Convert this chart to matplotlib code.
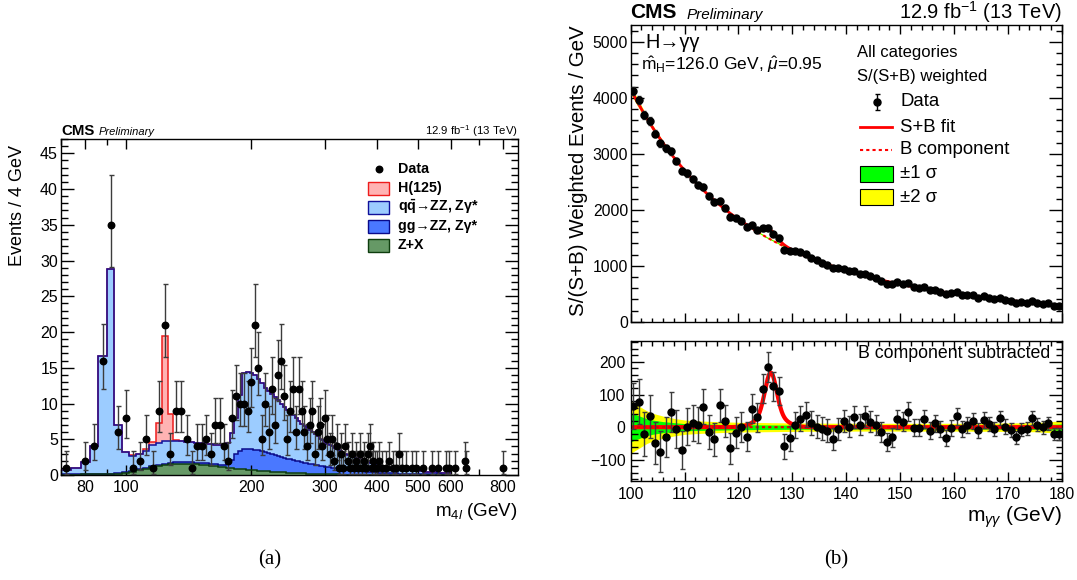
import numpy as np
import matplotlib
matplotlib.use('Agg')
import matplotlib.pyplot as plt
from matplotlib.patches import Rectangle
from matplotlib.ticker import FixedLocator, NullFormatter, FuncFormatter, MultipleLocator

plt.rcParams['font.family'] = ['Liberation Sans', 'DejaVu Sans']
plt.rcParams['mathtext.fontset'] = 'custom'
plt.rcParams['mathtext.rm'] = 'Liberation Sans'
plt.rcParams['mathtext.it'] = 'Liberation Sans:italic'
plt.rcParams['mathtext.bf'] = 'Liberation Sans:bold'

PX = 0.72  # points per pixel at 100 dpi

# ---------------------------------------------------------------- (a) m4l
# expected yields per 4 GeV bin, first bin 70-74 GeV
zx_yield = [
    0.05, 0.05, 0.08, 0.1, 0.12, 0.15, 0.2, 0.3, 0.45, 0.65,
    0.85, 1.05, 1.25, 1.4, 1.5, 1.55, 1.6, 1.58, 1.55, 1.5,
    1.45, 1.38, 1.3, 1.22, 1.15, 1.08, 1.0, 0.95, 0.9, 0.85,
    0.8, 0.75, 0.7, 0.66, 0.62, 0.58, 0.54, 0.5, 0.47, 0.44,
    0.41, 0.38, 0.35, 0.33, 0.31, 0.29, 0.27, 0.25, 0.23, 0.21,
    0.19, 0.18, 0.16, 0.15, 0.14, 0.13, 0.12, 0.11, 0.1, 0.09,
    0.08, 0.08, 0.07, 0.07, 0.06, 0.06, 0.05, 0.05, 0.04, 0.04,
    0.03, 0.03, 0.03, 0.02, 0.02, 0.02, 0.02, 0.01, 0.01, 0.01,
    0.01, 0.01]
gg_yield = [
    0.02, 0.02, 0.03, 0.03, 0.04, 0.05, 0.06, 0.08, 0.1, 0.12,
    0.14, 0.16, 0.18, 0.2, 0.2, 0.22, 0.22, 0.23, 0.23, 0.24,
    0.24, 0.25, 0.26, 0.28, 0.3, 0.35, 0.6, 1.2, 2.0, 2.5,
    2.8, 2.95, 2.95, 2.9, 2.85, 2.75, 2.65, 2.55, 2.45, 2.35,
    2.25, 2.15, 2.05, 1.95, 1.87, 1.8, 1.72, 1.65, 1.58, 1.5,
    1.44, 1.38, 1.32, 1.26, 1.2, 1.15, 1.1, 1.05, 1.0, 0.96,
    0.92, 0.88, 0.84, 0.8, 0.77, 0.74, 0.71, 0.68, 0.65, 0.62,
    0.59, 0.56, 0.54, 0.52, 0.5, 0.48, 0.46, 0.44, 0.42, 0.4,
    0.38, 0.36, 0.35, 0.33, 0.32, 0.3, 0.29, 0.28, 0.27, 0.26,
    0.25, 0.24, 0.23, 0.22, 0.21, 0.2, 0.19, 0.18, 0.17, 0.17,
    0.16, 0.15, 0.15, 0.14, 0.14, 0.13, 0.13, 0.12, 0.12, 0.11,
    0.11, 0.1, 0.1, 0.1, 0.09, 0.09, 0.09, 0.08, 0.08, 0.08,
    0.08, 0.07, 0.07, 0.07, 0.07, 0.06, 0.06, 0.06, 0.06, 0.05,
    0.05, 0.05, 0.05]
qq_yield = [
    0.63, 0.93, 1.69, 3.97, 16.54, 28.6, 6.74, 2.82, 2.15, 2.13,
    2.41, 2.99, 3.07, 3.1, 3.1, 2.93, 2.93, 2.84, 2.82, 2.76,
    2.76, 2.72, 2.74, 2.7, 2.8, 2.97, 2.9, 3.75, 5.1, 7.85,
    10.7, 10.7, 10.65, 10.44, 9.93, 9.47, 9.01, 8.65, 8.38, 8.11,
    7.84, 7.47, 7.1, 6.82, 6.52, 6.31, 6.01, 5.7, 5.39, 5.19,
    4.97, 4.74, 4.52, 4.29, 4.06, 3.82, 3.68, 3.44, 3.3, 3.15,
    3.0, 2.84, 2.69, 2.58, 2.47, 2.35, 2.24, 2.12, 2.01, 1.94,
    1.88, 1.81, 1.73, 1.66, 1.58, 1.5, 1.42, 1.35, 1.29, 1.24,
    1.19, 1.13, 1.09, 1.05, 1.0, 0.96, 0.91, 0.87, 0.83, 0.79,
    0.75, 0.72, 0.69, 0.66, 0.64, 0.62, 0.6, 0.58, 0.56, 0.53,
    0.52, 0.51, 0.49, 0.48, 0.46, 0.45, 0.43, 0.42, 0.41, 0.4,
    0.39, 0.38, 0.37, 0.36, 0.35, 0.34, 0.33, 0.32, 0.31, 0.3,
    0.29, 0.28, 0.27, 0.26, 0.25, 0.24, 0.23, 0.22, 0.21, 0.2,
    0.19, 0.18, 0.17]
h125_yield = [0, 0, 0, 0, 0, 0, 0, 0, 0.1, 0.1, 0.2, 0.4, 2.8, 14.8, 3.7, 0.2, 0.05]

# observed events (bin centre, count)
m4l_data = [72, 80, 84, 88, 92, 96, 100, 104, 108, 112, 116, 120, 124, 128,
            132, 136, 140, 144, 148, 152, 156, 160, 164, 168, 172, 176, 180,
            184, 188, 192, 196, 200, 204, 208, 212, 216, 220, 224, 228, 232,
            236, 240, 244, 248, 252, 256, 260, 264, 268, 272, 276, 280, 284,
            288, 292, 296, 300, 304, 308, 312, 316, 320, 324, 328, 332, 336,
            340, 344, 348, 352, 356, 360, 364, 368, 372, 376, 380, 384, 388,
            392, 396, 400, 404, 412, 420, 428, 436, 444, 452, 460, 468, 484,
            496, 516, 540, 560, 584, 596, 616, 648, 652, 800]
n4l_data = [1, 2, 4, 16, 35, 6, 8, 1, 2, 5, 1, 9, 21, 3,
            9, 9, 5, 1, 4, 4, 5, 3, 7, 7, 4, 2, 8,
            11, 10, 10, 9, 13, 21, 15, 5, 10, 6, 12, 7, 14,
            16, 11, 5, 9, 12, 6, 12, 9, 6, 4, 7, 9, 3,
            6, 7, 4, 8, 5, 3, 5, 2, 4, 1, 3, 1, 4,
            2, 1, 3, 1, 2, 1, 3, 1, 2, 1, 3, 4, 1,
            2, 1, 1, 2, 1, 1, 2, 1, 1, 3, 1, 1, 1,
            1, 1, 1, 1, 1, 1, 1, 2, 1, 1]

# ---------------------------------------------------------------- (b) mgg
# B-subtracted weighted events per 1 GeV bin, 100-180 GeV
mgg_resid = [
    66, 78, -21, 33, -49, -75, -29, 46, -6, -70,
    2, 12, 7, 63, -14, -37, 67, 20, -64, -17,
    0, -29, 57, 31, 118, 184, 125, 110, -59, -34,
    7, 26, 38, 14, 2, -5, -11, -37, -6, 20,
    2, 31, 7, 33, 17, 7, -15, -46, -31, 25,
    17, 48, -1, -1, 25, -11, 12, -5, -34, -3,
    33, -5, 7, 19, -10, 22, 10, -5, 28, 2,
    -8, -31, -8, -5, 28, 7, 0, 12, -21, -21]
sumw2_scale = 1.2          # effective weight for the weighted-event errors

# fit result: power-law background + signal (core and tail gaussians)
bkg_norm, bkg_power = 4150.0, 4.5
sig_mass = 126.0
sig_core_amp, sig_core_width = 125.0, 1.05
sig_tail_amp, sig_tail_width = 42.0, 2.3

# background uncertainty bands (half widths)
band_mass = [100, 101, 102, 103, 104, 106, 108, 110, 113, 116, 120, 125, 130,
             140, 150, 160, 170, 175, 178, 180]
band_1sig = [45, 38, 32, 26, 22, 17, 14, 11, 10, 9, 8, 7, 6.5, 6, 6, 6, 6.5,
             7, 8.5, 10]
band_2sig = [80, 70, 60, 50, 43, 34, 27, 22, 19, 17, 15, 14, 13, 12, 12, 12,
             13, 14, 17, 20]


def bkg(m):
    return bkg_norm * (np.asarray(m) / 100.0) ** (-bkg_power)


def sig(m):
    m = np.asarray(m)
    return (sig_core_amp * np.exp(-0.5 * ((m - sig_mass) / sig_core_width) ** 2)
            + sig_tail_amp * np.exp(-0.5 * ((m - sig_mass) / sig_tail_width) ** 2))


# ---------------------------------------------------------------- figure
W, H = 1077, 580
fig = plt.figure(figsize=(W / 100, H / 100), dpi=100)


def rect(x0, y0, x1, y1):
    return [x0 / W, 1 - y1 / H, (x1 - x0) / W, (y1 - y0) / H]


ax_l = fig.add_axes(rect(61, 139, 518, 475))
ax_u = fig.add_axes(rect(630.7, 25, 1061.7, 321.7))
ax_d = fig.add_axes(rect(630.7, 340.7, 1061.7, 480.7))

# ---- left: stacked histograms, drawn ROOT-style (cumulative, top first)
nb = len(qq_yield)
edges = 70 + 4 * np.arange(nb + 1)


def pad(v):
    v = np.asarray(v, float)
    return np.pad(v, (0, nb - len(v)))


c_zx = pad(zx_yield)
c_gg = c_zx + pad(gg_yield)
c_qq = c_gg + pad(qq_yield)
c_h = c_qq + pad(h125_yield)
stack = [(c_h, '#ffb3b3', '#ee1c1c'),
         (c_qq, '#9cccff', '#10109a'),
         (c_gg, '#4a78ff', '#0a0a8a'),
         (c_zx, '#669966', '#0e3d0e')]
for top, fc, ec in stack:
    ax_l.stairs(top, edges, baseline=0, fill=True, color=fc, lw=0, zorder=1)
    ax_l.stairs(top, edges, baseline=None, color=ec, lw=1.1, zorder=2)

n = np.asarray(n4l_data, float)
lo = n * (1 - 1 / (9 * n) - 1 / (3 * np.sqrt(n))) ** 3
hi = n + np.sqrt(n + 0.75) + 1
ax_l.errorbar(m4l_data, n, yerr=[n - lo, hi - n], fmt='o', ms=6.5 * PX,
              mfc='black', mec='black', ecolor='#3c3c3c', elinewidth=1.0,
              capsize=1.8, capthick=1.0, zorder=5)

ax_l.set_xscale('log')
ax_l.set_xlim(70, 870)
ax_l.set_ylim(0, 47)
ax_l.xaxis.set_major_locator(FixedLocator([80, 100, 200, 300, 400, 500, 600, 800]))
ax_l.xaxis.set_major_formatter(FuncFormatter(lambda v, _: f'{v:g}'))
ax_l.xaxis.set_minor_locator(FixedLocator([70, 90, 700]))
ax_l.xaxis.set_minor_formatter(NullFormatter())
ax_l.yaxis.set_major_locator(MultipleLocator(5))
ax_l.yaxis.set_minor_locator(MultipleLocator(1))
ax_l.tick_params(which='both', direction='in', top=True, right=True,
                 labelsize=11.5, width=1.0)
ax_l.tick_params(axis='y', which='major', length=13.5 * PX, pad=3 * PX)
ax_l.tick_params(axis='y', which='minor', length=7 * PX)
ax_l.tick_params(axis='x', which='major', length=10 * PX, pad=5 * PX)
ax_l.tick_params(axis='x', which='minor', length=6 * PX)

# ---- right: fit + data
m_fine = np.linspace(100, 180, 1601)
mgg = np.arange(100.5, 180, 1.0)
resid = np.asarray(mgg_resid, float)
data = bkg(mgg) + resid
err_u = np.sqrt(sumw2_scale * data)

bm = np.asarray(band_mass, float)
b1 = np.asarray(band_1sig, float)
b2 = np.asarray(band_2sig, float)

ax_u.fill_between(bm, bkg(bm) - b2, bkg(bm) + b2, color='#ffff00', lw=0)
ax_u.fill_between(bm, bkg(bm) - b1, bkg(bm) + b1, color='#00ff00', lw=0)
ax_u.plot(m_fine, bkg(m_fine), color='red', lw=1.5, ls=(0, (1.5, 1.5)))
ax_u.plot(m_fine, bkg(m_fine) + sig(m_fine), color='red', lw=2.0)
ax_u.errorbar(mgg, data, yerr=err_u, fmt='o', ms=7 * PX, mfc='black',
              mec='black', ecolor='#3c3c3c', elinewidth=1.0, capsize=1.5,
              zorder=5)
ax_u.set_xlim(100, 180)
ax_u.set_ylim(0, 5300)

ax_d.fill_between(bm, -b2, b2, color='#ffff00', lw=0)
ax_d.fill_between(bm, -b1, b1, color='#00ff00', lw=0)
ax_d.plot(m_fine, sig(m_fine), color='red', lw=3.0)
ax_d.plot(m_fine, np.zeros_like(m_fine), color='#dd0000', lw=1.5,
          ls=(0, (1.5, 1.5)))
ax_d.errorbar(mgg, resid, yerr=np.sqrt(sumw2_scale * data), fmt='o',
              ms=7 * PX, mfc='black', mec='black', ecolor='#3c3c3c',
              elinewidth=1.0, capsize=1.8, capthick=1.0, zorder=5)
ax_d.set_xlim(100, 180)
ax_d.set_ylim(-164, 265)

for ax in (ax_u, ax_d):
    ax.xaxis.set_major_locator(MultipleLocator(10))
    ax.xaxis.set_minor_locator(MultipleLocator(2))
    ax.tick_params(which='both', direction='in', top=True, right=True,
                   labelsize=11.3, width=1.0)
    ax.tick_params(axis='y', which='major', length=13 * PX)
    ax.tick_params(axis='y', which='minor', length=6.5 * PX)
    ax.tick_params(axis='x', which='major', length=9 * PX)
    ax.tick_params(axis='x', which='minor', length=4.5 * PX)
ax_u.yaxis.set_major_locator(MultipleLocator(1000))
ax_u.yaxis.set_minor_locator(MultipleLocator(200))
ax_u.tick_params(axis='x', labelbottom=False)
ax_u.tick_params(axis='y', pad=2.5 * PX)
ax_d.yaxis.set_major_locator(MultipleLocator(100))
ax_d.yaxis.set_minor_locator(MultipleLocator(20))
ax_d.yaxis.set_major_formatter(FuncFormatter(lambda v, _: f'{v:g}'.replace('-', '\u2212')))
ax_d.tick_params(axis='y', pad=5 * PX)
ax_d.tick_params(axis='x', pad=6 * PX)

for ax in (ax_l, ax_u, ax_d):
    for s in ax.spines.values():
        s.set_linewidth(1.0)

# ---------------------------------------------------------------- labels
ov = fig.add_axes([0, 0, 1, 1])
ov.set_xlim(0, W)
ov.set_ylim(H, 0)
ov.axis('off')
ov.patch.set_alpha(0)

# left panel header and axis titles
ov.text(61, 135, 'CMS', fontsize=10.8, weight='bold', va='baseline')
ov.text(99, 135, 'Preliminary', fontsize=8, style='italic', va='baseline')
ov.text(518, 135, r'12.9 fb$^{-1}$ (13 TeV)', fontsize=8.2, ha='right',
        va='baseline')
ov.text(18, 145, 'Events / 4 GeV', rotation=90, fontsize=13, ha='center',
        va='top')
ov.text(518, 512, r'm$_{4\mathit{l}}$ (GeV)', fontsize=13.5, ha='right',
        va='center')

# left legend
leg_y = [188, 207, 226, 245]
leg_items = [('H(125)', '#ffb3b3', '#ee1c1c'),
             (r'q$\mathbf{\bar{q}}$→ZZ, Zγ*', '#9cccff', '#10109a'),
             ('gg→ZZ, Zγ*', '#4a78ff', '#0a0a8a'),
             ('Z+X', '#669966', '#0e3d0e')]
ov.plot([379], [169], 'o', ms=6.5 * PX, color='black')
ov.text(398, 169, 'Data', fontsize=10.3, weight='bold', va='center')
for y, (lab, fc, ec) in zip(leg_y, leg_items):
    ov.add_patch(Rectangle((368, y - 6.5), 21, 13, facecolor=fc, edgecolor=ec,
                           lw=1.0))
    ov.text(398, y, lab, fontsize=10.3, weight='bold', va='center')

# right panel header and axis titles
ov.text(630, 18.5, 'CMS', fontsize=15, weight='bold', va='baseline')
ov.text(687, 18.5, 'Preliminary', fontsize=11, style='italic', va='baseline')
ov.text(1062, 19, r'12.9 fb$^{-1}$ (13 TeV)', fontsize=14.5, ha='right',
        va='baseline')
ov.text(579, 25, 'S/(S+B) Weighted Events / GeV', rotation=90, fontsize=14.8,
        ha='center', va='top')
ov.text(1062, 517, r'm$_{\gamma\gamma}$ (GeV)', fontsize=15, ha='right',
        va='center')
ov.text(645, 43, 'H→γγ', fontsize=14.4, va='center')
ov.text(641, 65, r'$\hat{\mathrm{m}}_{\mathrm{H}}$=126.0 GeV, $\hat{\mu}$=0.95',
        fontsize=12.5, va='center')
ov.text(857, 53, 'All categories', fontsize=12, va='center')
ov.text(857, 76, 'S/(S+B) weighted', fontsize=12, va='center')
ov.text(1050, 353, 'B component subtracted', fontsize=12.8, ha='right',
        va='center')

# right legend
ov.errorbar([877], [102], yerr=[[8], [8]], fmt='o', ms=7 * PX, color='black',
            elinewidth=1.0, capsize=1.8)
ov.plot([860, 892], [127, 127], color='red', lw=2.0)
ov.plot([860, 892], [150, 150], color='red', lw=1.5, ls=(0, (1.5, 1.5)))
ov.add_patch(Rectangle((860, 166), 33, 16, facecolor='#00ff00',
                       edgecolor='black', lw=0.8))
ov.add_patch(Rectangle((860, 189), 33, 15.5, facecolor='#ffff00',
                       edgecolor='black', lw=0.8))
for y, lab in [(102, 'Data'), (127, 'S+B fit'), (150, 'B component'),
               (174, '±1 σ'), (197, '±2 σ')]:
    ov.text(900, y, lab, fontsize=13.4, va='center')

# sub-figure captions
ov.text(270, 560, '(a)', fontsize=15, family='Liberation Serif',
        ha='center', va='center')
ov.text(836, 560, '(b)', fontsize=15, family='Liberation Serif',
        ha='center', va='center')

fig.savefig('out.png', dpi=100)
